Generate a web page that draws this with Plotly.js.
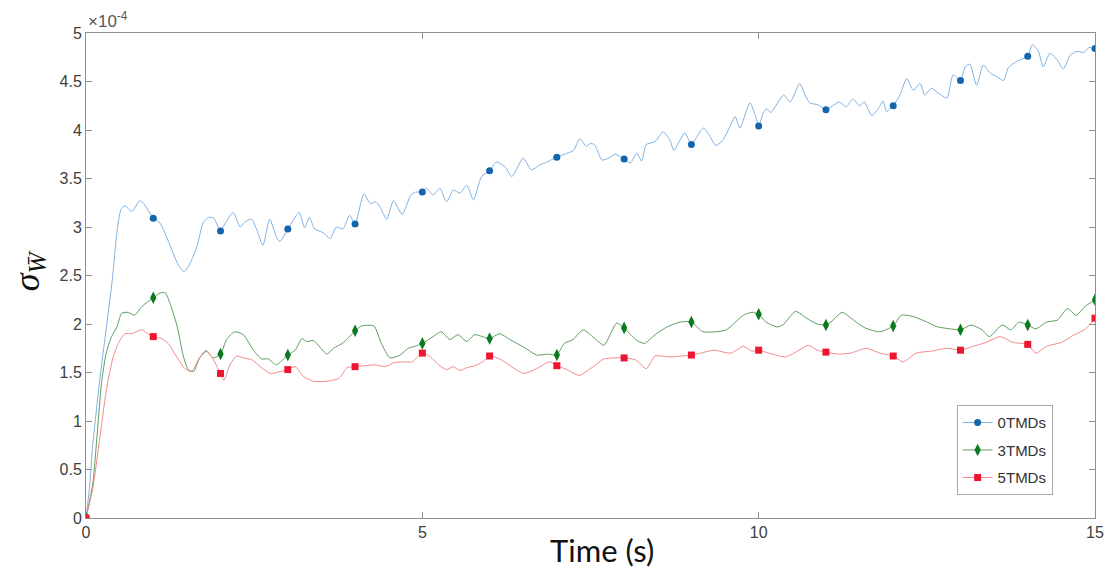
<!DOCTYPE html>
<html>
<head>
<meta charset="utf-8">
<script src="https://cdn.plot.ly/plotly-3.0.1.min.js"></script>
<style>html,body{margin:0;padding:0;background:#fff;}#chart{width:1107px;height:568px;}</style>
</head>
<body>
<div id="chart"></div>
<script>
// values in units of 1e-4 (axis shows ×10^-4)
const seriesNames = ["0TMDs", "3TMDs", "5TMDs"];

const blueT = [0,0.05,0.1,0.2,0.28,0.39,0.46,0.52,0.58,0.68,0.8,0.86,1.0,1.1,1.25,1.37,1.46,1.55,1.65,1.74,1.82,1.9,2.0,2.07,2.19,2.29,2.36,2.46,2.54,2.63,2.73,2.83,2.88,3.0,3.08,3.17,3.25,3.32,3.4,3.53,3.63,3.72,3.82,3.92,4.0,4.13,4.23,4.3,4.37,4.47,4.57,4.7,4.83,4.9,5.0,5.06,5.16,5.26,5.36,5.46,5.56,5.66,5.76,5.88,6.0,6.1,6.23,6.33,6.5,6.62,6.75,6.85,7.0,7.15,7.25,7.34,7.44,7.49,7.56,7.67,7.77,7.87,8.0,8.09,8.19,8.26,8.33,8.46,8.58,8.68,8.74,8.9,9.0,9.08,9.18,9.28,9.36,9.46,9.57,9.65,9.72,9.87,9.95,10.0,10.07,10.12,10.18,10.37,10.47,10.61,10.69,10.76,10.88,11.0,11.1,11.2,11.3,11.4,11.5,11.57,11.68,11.78,11.85,11.9,12.0,12.1,12.2,12.3,12.4,12.47,12.57,12.67,12.8,12.89,13.0,13.07,13.14,13.24,13.34,13.44,13.54,13.64,13.71,13.84,14.0,14.07,14.16,14.23,14.33,14.43,14.53,14.63,14.73,14.83,14.91,15.0];
const blueV = [0,0.3,0.75,1.4,1.84,2.45,2.95,3.18,3.22,3.16,3.27,3.24,3.09,3.04,2.81,2.61,2.54,2.63,2.8,3.04,3.1,3.09,2.96,3.04,3.15,3.0,3.05,3.08,2.97,2.81,3.08,2.9,2.85,2.98,3.07,3.15,2.99,3.1,2.98,2.94,2.88,3.0,2.98,3.12,3.03,3.34,3.24,3.26,3.21,3.08,3.27,3.13,3.33,3.36,3.36,3.4,3.33,3.4,3.26,3.38,3.35,3.43,3.28,3.52,3.58,3.67,3.62,3.52,3.71,3.59,3.64,3.67,3.72,3.76,3.79,3.91,3.83,3.86,3.85,3.69,3.71,3.75,3.7,3.66,3.76,3.68,3.85,3.88,3.98,3.9,3.79,3.97,3.85,3.93,4.02,3.93,3.84,3.89,4.03,4.14,4.02,4.28,4.15,4.04,4.18,4.22,4.18,4.36,4.29,4.48,4.36,4.28,4.26,4.21,4.25,4.29,4.24,4.32,4.25,4.29,4.15,4.22,4.3,4.19,4.25,4.36,4.53,4.41,4.48,4.36,4.43,4.38,4.33,4.57,4.51,4.65,4.68,4.46,4.67,4.59,4.55,4.51,4.64,4.71,4.76,4.88,4.81,4.65,4.79,4.73,4.63,4.77,4.81,4.8,4.85,4.84];

const greenT = [0,0.1,0.17,0.23,0.3,0.38,0.46,0.53,0.63,0.72,0.83,1.0,1.1,1.18,1.25,1.35,1.45,1.52,1.6,1.69,1.79,1.89,2.0,2.09,2.21,2.34,2.49,2.61,2.71,2.83,3.0,3.11,3.21,3.28,3.38,3.48,3.58,3.68,3.83,4.0,4.1,4.28,4.39,4.52,4.67,4.79,4.89,5.0,5.16,5.28,5.41,5.53,5.66,5.78,6.0,6.15,6.3,6.51,6.7,6.86,7.0,7.11,7.24,7.39,7.58,7.7,7.89,8.0,8.17,8.3,8.46,8.64,8.83,9.0,9.17,9.36,9.52,9.77,9.9,10.0,10.11,10.27,10.36,10.55,10.71,10.87,11.0,11.09,11.24,11.43,11.58,11.8,12.0,12.12,12.28,12.47,12.66,12.85,13.0,13.16,13.32,13.43,13.62,13.75,13.87,14.0,14.12,14.28,14.44,14.59,14.72,14.85,15.0];
const greenV = [0,0.35,0.9,1.39,1.7,1.87,1.97,2.11,2.12,2.09,2.18,2.27,2.32,2.32,2.21,1.99,1.66,1.53,1.51,1.65,1.72,1.65,1.69,1.84,1.92,1.89,1.73,1.64,1.64,1.58,1.68,1.73,1.85,1.82,1.83,1.76,1.69,1.75,1.81,1.93,1.98,1.98,1.8,1.65,1.68,1.75,1.77,1.8,1.87,1.92,1.84,1.89,1.82,1.89,1.85,1.9,1.84,1.76,1.68,1.69,1.68,1.8,1.84,1.94,1.84,1.78,2.01,1.96,1.84,1.8,1.89,1.97,2.02,2.02,1.92,1.92,1.94,2.09,2.12,2.1,2.02,1.97,1.99,2.13,2.06,2.0,1.99,2.03,2.12,2.03,1.96,1.92,1.98,2.09,2.08,2.03,1.97,1.95,1.94,1.99,1.94,1.87,1.99,1.94,2.02,1.99,1.95,2.02,2.04,2.16,2.09,2.18,2.25];

const redT = [0,0.1,0.2,0.31,0.4,0.48,0.58,0.68,0.75,0.83,0.92,1.0,1.12,1.22,1.35,1.47,1.57,1.67,1.78,1.87,2.0,2.05,2.14,2.24,2.34,2.47,2.59,2.74,2.89,3.0,3.11,3.23,3.38,3.58,3.76,3.88,4.0,4.15,4.3,4.45,4.57,4.7,4.85,5.0,5.12,5.24,5.36,5.46,5.56,5.66,5.78,5.9,6.0,6.15,6.35,6.51,6.7,6.89,7.0,7.15,7.33,7.52,7.7,8.0,8.17,8.33,8.46,8.67,8.86,9.0,9.14,9.33,9.59,9.77,9.9,10.0,10.15,10.4,10.6,10.74,10.87,11.0,11.18,11.37,11.6,11.8,12.0,12.15,12.34,12.57,12.8,13.0,13.19,13.38,13.59,13.78,14.0,14.12,14.28,14.5,14.67,14.86,15.0];
const redV = [0,0.3,0.8,1.35,1.65,1.8,1.9,1.9,1.92,1.94,1.9,1.87,1.85,1.8,1.66,1.54,1.51,1.63,1.73,1.66,1.49,1.42,1.58,1.67,1.65,1.63,1.56,1.49,1.51,1.53,1.56,1.46,1.41,1.41,1.44,1.55,1.56,1.57,1.58,1.56,1.6,1.61,1.61,1.7,1.66,1.58,1.53,1.56,1.52,1.55,1.57,1.61,1.67,1.64,1.55,1.49,1.54,1.61,1.57,1.53,1.47,1.55,1.64,1.65,1.63,1.54,1.67,1.66,1.67,1.68,1.7,1.73,1.7,1.77,1.72,1.73,1.7,1.66,1.73,1.78,1.73,1.71,1.69,1.7,1.75,1.7,1.67,1.61,1.7,1.72,1.75,1.73,1.77,1.81,1.87,1.81,1.79,1.7,1.77,1.81,1.88,1.95,2.06];

// markers at whole seconds
const markerT = [0,1,2,3,4,5,6,7,8,9,10,11,12,13,14,15];
const blueM  = [0,3.09,2.96,2.98,3.03,3.36,3.58,3.72,3.70,3.85,4.04,4.21,4.25,4.51,4.76,4.84];
const greenM = [0,2.27,1.69,1.68,1.93,1.80,1.85,1.68,1.96,2.02,2.10,1.99,1.98,1.94,1.99,2.25];
const redM   = [0,1.87,1.49,1.53,1.56,1.70,1.67,1.57,1.65,1.68,1.73,1.71,1.67,1.73,1.79,2.06];

const xTicks = [0,5,10,15];
const yTicks = [0,0.5,1,1.5,2,2.5,3,3.5,4,4.5,5];
const yTickText = ["0","0.5","1","1.5","2","2.5","3","3.5","4","4.5","5"];

const styles = [
  {line:"#7fb2e2", mk:"#1565ad", sym:"circle", size:7},
  {line:"#5e9e5e", mk:"#0b7a1f", sym:"diamond-tall", size:9},
  {line:"#f28a8a", mk:"#ee1530", sym:"square", size:7}
];
const lines = [[blueT,blueV],[greenT,greenV],[redT,redV]];
const marks = [blueM, greenM, redM];

const traces = [];
lines.forEach((s,i)=>{
  traces.push({x:s[0], y:s[1], mode:"lines", type:"scatter", showlegend:false,
    line:{color:styles[i].line, width:1, shape:"spline", smoothing:0.6}, hoverinfo:"skip"});
});
marks.forEach((m,i)=>{
  traces.push({x:markerT, y:m, mode:"markers", type:"scatter", showlegend:false,
    marker:{color:styles[i].mk, symbol:styles[i].sym, size:styles[i].size}});
});
// legend entries (no plotted points)
seriesNames.forEach((n,i)=>{
  traces.push({x:[null], y:[null], name:n, mode:"lines+markers", type:"scatter", legendgroup:"g"+i,
    line:{color:styles[i].line, width:1},
    marker:{color:styles[i].mk, symbol:styles[i].sym, size:styles[i].size}});
});

const axisCommon = {showline:true, linecolor:"#8f8f8f", linewidth:1, mirror:"ticks",
  ticks:"inside", ticklen:6, tickcolor:"#8f8f8f", showgrid:false, zeroline:false,
  tickfont:{family:"Liberation Sans, Arial, sans-serif", size:16, color:"#404040"}};

const layout = {
  width:1107, height:568,
  margin:{l:86, r:12, t:33, b:50},
  paper_bgcolor:"#fff", plot_bgcolor:"#fff",
  xaxis:Object.assign({}, axisCommon, {range:[0,15], tickvals:xTicks, ticktext:xTicks.map(String)}),
  yaxis:Object.assign({}, axisCommon, {range:[0,5], tickvals:yTicks, ticktext:yTickText}),
  showlegend:true,
  legend:{x:0.958, y:0.047, xanchor:"right", yanchor:"bottom", bgcolor:"#fff",
    bordercolor:"#a8a8a8", borderwidth:1, tracegroupgap:5, itemwidth:30,
    font:{family:"Liberation Sans, Arial, sans-serif", size:15, color:"#333"}},
  annotations:[
    {text:"×10<sup>-4</sup>", xref:"paper", yref:"paper", x:0, y:1, xanchor:"left", yanchor:"bottom",
      showarrow:false, font:{family:"Liberation Sans, Arial, sans-serif", size:17, color:"#555"}},
    {text:"<i>σ</i><sub><i>W̄</i></sub>", xref:"paper", yref:"paper", x:-0.056, y:0.51, textangle:-90,
      xanchor:"center", yanchor:"middle", showarrow:false,
      font:{family:"Liberation Serif, serif", size:36, color:"#111"}},
    {text:"Time (s)", xref:"paper", yref:"paper", x:0.511, y:0, yshift:-32, xanchor:"center", yanchor:"middle",
      showarrow:false, font:{family:"Lato, sans-serif", size:31, color:"#111"}}
  ]
};

Plotly.newPlot("chart", traces, layout, {displayModeBar:false, staticPlot:true});
</script>
</body>
</html>
